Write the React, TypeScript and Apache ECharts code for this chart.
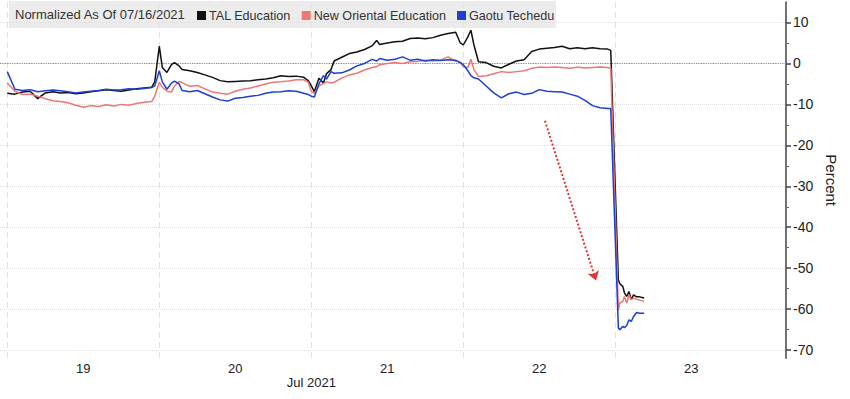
import React, { useEffect, useRef } from "react";
import * as echarts from "echarts";

// Time positions in trading-day units (19 = start of Jul 19 session)
const times = [
  // Jul 19
  19.0, 19.05, 19.1, 19.15, 19.2, 19.25, 19.3, 19.35, 19.4, 19.45, 19.5, 19.55, 19.6, 19.65, 19.7, 19.75, 19.8, 19.85, 19.9, 19.95, 19.97,
  // Jul 20
  20.0, 20.02, 20.05, 20.08, 20.1, 20.13, 20.15, 20.2, 20.25, 20.3, 20.35, 20.4, 20.45, 20.5, 20.55, 20.6, 20.65, 20.7, 20.75, 20.8, 20.85, 20.9, 20.95, 20.98,
  // Jul 21
  21.0, 21.02, 21.05, 21.08, 21.1, 21.13, 21.15, 21.2, 21.25, 21.3, 21.35, 21.4, 21.43, 21.45, 21.5, 21.55, 21.6, 21.65, 21.7, 21.75, 21.8, 21.85, 21.9, 21.95, 21.98,
  // Jul 22
  22.0, 22.03, 22.05, 22.07, 22.1, 22.15, 22.2, 22.25, 22.3, 22.35, 22.4, 22.45, 22.5, 22.55, 22.6, 22.65, 22.7, 22.75, 22.8, 22.85, 22.9, 22.95, 22.97,
  // Jul 23
  23.02, 23.03, 23.05, 23.06, 23.075, 23.09, 23.105, 23.12, 23.14, 23.16, 23.19,
];

const talEducation = [
  -7.3, -7.5, -7.0, -6.8, -8.6, -7.2, -6.9, -7.2, -7.1, -7.4, -7.2, -6.9, -6.7, -6.4, -6.6, -6.8, -6.5, -6.2, -6.0, -5.8, -4.5,
  4.2, -1.0, -2.2, -0.3, 0.2, -0.6, -1.5, -1.8, -2.2, -2.8, -3.4, -4.2, -4.5, -4.4, -4.3, -4.2, -4.0, -3.8, -3.5, -3.0, -3.2, -3.1, -3.4, -4.2,
  -5.5, -6.9, -3.6, -4.8, -2.5, -1.5, 0.6, 1.5, 2.4, 2.8, 3.4, 4.3, 5.6, 4.6, 5.0, 5.3, 5.4, 6.1, 6.2, 6.0, 6.3, 6.9, 7.3, 7.6, 5.0,
  4.5, 6.5, 8.1, 4.5, 0.4, 0.2, -0.7, -1.1, -0.2, 0.6, 0.9, 2.9, 3.5, 3.7, 3.9, 4.2, 3.6, 3.8, 3.6, 3.8, 3.6, 3.5, 3.2,
  -52.9, -53.8, -54.5, -56.0, -56.9, -55.7, -57.7, -56.5, -57.0, -57.0, -57.3,
];

const newOrientalEducation = [
  -4.8, -6.8, -7.6, -7.5, -8.0, -8.6, -9.1, -9.3, -9.6, -10.2, -10.7, -10.3, -10.5, -10.1, -10.4, -10.0, -10.2, -9.8, -9.5, -9.3, -8.0,
  -4.6, -5.8, -6.8, -7.0, -5.5, -4.4, -4.7, -5.6, -5.4, -6.2, -7.0, -7.3, -7.5, -6.8, -6.3, -6.0, -5.5, -5.0, -4.6, -4.5, -4.3, -4.0, -4.0, -4.6,
  -6.8, -7.3, -5.5, -4.9, -4.5, -4.8, -4.6, -3.6, -2.8, -2.4, -1.6, -1.0, -0.8, -0.3, 0.0, 0.2, 0.0, 0.4, 0.5, 0.8, 0.6, 0.8, 1.6, 0.5, 0.3,
  -0.8, -1.0, 1.0, -1.5, -3.2, -3.0, -2.5, -2.0, -2.2, -2.0, -1.8, -1.2, -0.9, -1.0, -0.9, -1.0, -1.2, -0.9, -1.1, -1.0, -0.9, -1.0, -1.2,
  -60.2, -58.5, -58.1, -56.9, -58.5, -56.5, -57.7, -57.3, -57.6, -57.8, -58.1,
];

const gaotuTechedu = [
  -2.0, -6.3, -6.6, -6.4, -6.9, -6.7, -6.5, -6.7, -6.9, -7.2, -7.0, -6.8, -6.6, -6.3, -6.5, -6.4, -6.2, -6.3, -6.1, -5.9, -5.5,
  -1.8, -4.5, -6.3, -4.8, -4.3, -5.0, -6.6, -6.9, -6.6, -7.4, -8.2, -8.9, -9.2, -8.5, -8.3, -8.0, -7.8, -7.3, -7.0, -6.9, -6.7, -6.8, -7.3, -7.6,
  -8.0, -8.2, -5.0, -3.0, -3.8, -2.0, -2.4, -2.3, -1.6, -0.6, 0.0, 1.0, 0.6, 1.2, 0.8, 1.0, 1.6, 0.8, 1.0, 0.6, 0.9, 0.7, 0.9, 0.8, 0.2,
  -0.3, -1.8, -3.0, -3.5, -3.8, -5.5, -7.2, -8.4, -7.4, -7.0, -7.6, -7.3, -6.4, -6.8, -6.9, -7.0, -7.5, -8.0, -9.0, -10.3, -10.8, -11.0, -11.0,
  -64.6, -65.0, -64.2, -64.5, -64.0, -62.6, -63.0, -61.8, -60.8, -61.0, -61.0,
];

const seriesNames = ["TAL Education", "New Oriental Education", "Gaotu Techedu"];
const dayBoundaries = [19, 20, 21, 22, 23];
const dayLabelPositions = [19.5, 20.5, 21.5, 22.5, 23.5];
const monthLabelPosition = [21];
const monthLabel = "Jul 2021";
const yMajorTicks = [-70, -60, -50, -40, -30, -20, -10, 0, 10];
const yMinorTicks = [-65, -55, -45, -35, -25, -15, -5, 5];
const titleText = "Normalized As Of 07/16/2021";
const yAxisName = "Percent";
// annotation arrow endpoints (day, percent)
const arrowStart = [22.537, -14.0];
const arrowEnd = [22.873, -53.0];

const FONT = "Liberation Sans";
const X_MIN = 18.952;
const X_MAX = 24.123;
const Y_MIN = -72;
const Y_MAX = 15;

export default function App() {
  const ref = useRef<HTMLDivElement>(null);
  useEffect(() => {
    if (!ref.current) return;
    const chart = echarts.init(ref.current, null, { renderer: "svg" });
    const pair = (vals: number[]) => times.map((t, i) => [t, vals[i]]);
    const colors = ["#111111", "#ef7775", "#1d3fd4"];
    chart.setOption({
      animation: false,
      color: colors,
      textStyle: { fontFamily: FONT },
      graphic: [
        {
          type: "rect",
          z: 0,
          silent: true,
          shape: { x: 9, y: 1, width: 547, height: 27 },
          style: { fill: "#ececec" },
        },
      ],
      title: {
        text: titleText,
        left: 15,
        top: 8,
        padding: 0,
        textStyle: { fontFamily: FONT, fontSize: 13, fontWeight: "normal", color: "#333" },
      },
      legend: {
        left: 197,
        top: 9,
        padding: 0,
        itemGap: 11,
        icon: "rect",
        itemWidth: 9,
        itemHeight: 9,
        data: seriesNames,
        textStyle: { fontFamily: FONT, fontSize: 12.6, color: "#333", padding: [0, 0, 0, -2] },
      },
      grid: { left: 0, right: 64, top: 2, bottom: 40.7, containLabel: false },
      xAxis: [
        {
          type: "value",
          min: X_MIN,
          max: X_MAX,
          axisLine: { show: false },
          axisTick: { show: false, customValues: dayBoundaries },
          splitLine: {
            show: true,
            lineStyle: { color: "#e2e2e2", type: [6, 4], width: 1 },
          },
          axisLabel: {
            customValues: dayLabelPositions,
            formatter: (v: number) => String(Math.floor(v)),
            fontFamily: FONT,
            fontSize: 13,
            color: "#222",
            margin: 4,
          },
        },
        {
          type: "value",
          min: X_MIN,
          max: X_MAX,
          position: "bottom",
          axisLine: { show: false },
          axisTick: { show: false },
          splitLine: { show: false },
          axisLabel: {
            customValues: monthLabelPosition,
            formatter: () => monthLabel,
            fontFamily: FONT,
            fontSize: 13,
            color: "#222",
            margin: 18,
          },
        },
      ],
      yAxis: [
        {
          type: "value",
          position: "right",
          min: Y_MIN,
          max: Y_MAX,
          name: yAxisName,
          nameLocation: "middle",
          nameRotate: -90,
          nameGap: 38,
          nameTextStyle: { fontFamily: FONT, fontSize: 15, color: "#222" },
          axisLine: { show: true, onZero: false, lineStyle: { color: "#444", width: 1.5 } },
          axisTick: { show: true, customValues: yMajorTicks, length: 5, lineStyle: { color: "#444", width: 1.5 } },
          axisLabel: {
            customValues: yMajorTicks,
            formatter: (v: number) => String(v),
            fontFamily: FONT,
            fontSize: 14,
            color: "#222",
            margin: 7,
          },
          splitLine: {
            show: true,
            lineStyle: { color: "#dedede", type: "dotted", width: 1 },
          },
        },
        {
          type: "value",
          position: "right",
          min: Y_MIN,
          max: Y_MAX,
          axisLine: { show: false },
          axisTick: { show: true, customValues: yMinorTicks, length: 3, lineStyle: { color: "#666", width: 1 } },
          axisLabel: { show: false },
          splitLine: { show: false },
        },
      ],
      series: [
        {
          name: seriesNames[0],
          type: "line",
          data: pair(talEducation),
          showSymbol: false,
          lineStyle: { width: 1.5, color: colors[0] },
          z: 3,
          markLine: {
            silent: true,
            symbol: "none",
            label: { show: false },
            lineStyle: { color: "#8a8a8a", type: "dotted", width: 1.2 },
            data: [{ yAxis: 0 }],
            z: 1,
          },
        },
        {
          name: seriesNames[1],
          type: "line",
          data: pair(newOrientalEducation),
          showSymbol: false,
          lineStyle: { width: 1.5, color: colors[1] },
          z: 4,
        },
        {
          name: seriesNames[2],
          type: "line",
          data: pair(gaotuTechedu),
          showSymbol: false,
          lineStyle: { width: 1.5, color: colors[2] },
          z: 5,
          markLine: {
            silent: true,
            symbol: ["none", "arrow"],
            symbolSize: 9,
            label: { show: false },
            lineStyle: { color: "#e0363a", type: [2, 2], width: 2 },
            data: [[{ coord: arrowStart }, { coord: arrowEnd }]],
          },
        },
      ],
    });
    return () => chart.dispose();
  }, []);
  return (
    <div
      ref={ref}
      style={{ position: "absolute", left: 0, top: 0, width: 850, height: 399, background: "#fff" }}
    />
  );
}
